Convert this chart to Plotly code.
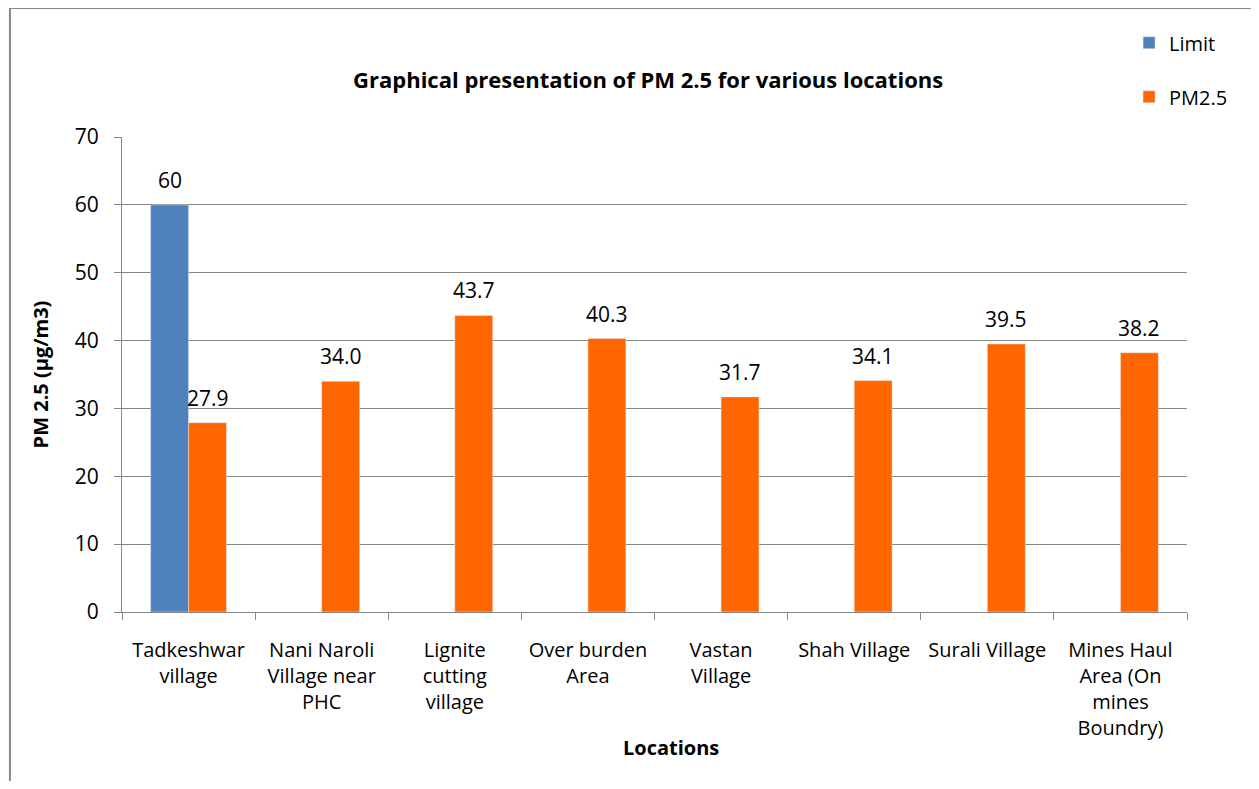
import plotly.graph_objects as go

# Locations and measured values
locations = [
    "Tadkeshwar<br>village",
    "Nani Naroli<br>Village near<br>PHC",
    "Lignite<br>cutting<br>village",
    "Over burden<br>Area",
    "Vastan<br>Village",
    "Shah Village",
    "Surali Village",
    "Mines Haul<br>Area (On<br>mines<br>Boundry)",
]
limit = [60, None, None, None, None, None, None, None]
pm25 = [27.9, 34.0, 43.7, 40.3, 31.7, 34.1, 39.5, 38.2]

font = "Open Sans, Noto Sans, sans-serif"

fig = go.Figure()
fig.add_trace(go.Bar(x=locations, y=limit, name="Limit",
                     marker_color="#4F81BD", legendgroup="a"))
fig.add_trace(go.Bar(x=locations, y=pm25, name="PM2.5",
                     marker_color="#FF6600", legendgroup="b"))

# data labels above each bar
for loc, v in zip(locations, limit):
    if v is not None:
        fig.add_annotation(x=loc, y=v, text=f"{v:g}", showarrow=False,
                           xshift=-19, yshift=25, font=dict(size=21))
for loc, v in zip(locations, pm25):
    fig.add_annotation(x=loc, y=v, text=f"{v:.1f}", showarrow=False,
                       xshift=19, yshift=25, font=dict(size=21))

fig.add_annotation(text="<b>Locations</b>", xref="paper", yref="paper",
                   x=0.5155, y=-0.286, showarrow=False, yanchor="middle",
                   font=dict(size=20))

fig.update_layout(
    width=1251, height=773,
    margin=dict(l=114, r=72, t=129, b=169),
    paper_bgcolor="white", plot_bgcolor="white",
    font=dict(family=font, size=20, color="black"),
    barmode="group", bargap=0.43, bargroupgap=0,
    title=dict(text="<b>Graphical presentation of PM 2.5 for various locations</b>",
               xref="paper", x=0.494, xanchor="center", y=0.907, yanchor="middle",
               font=dict(size=22)),
    legend=dict(x=0.9456, y=1.2395, xanchor="left", yanchor="top",
                tracegroupgap=25, font=dict(size=20), bgcolor="rgba(0,0,0,0)"),
    shapes=[dict(type="rect", xref="paper", yref="paper",
                 x0=-0.1052, x1=1.0657, y0=-0.40, y1=1.2716,
                 line=dict(color="#888888", width=2), layer="below")],
)

fig.update_yaxes(
    range=[0, 70], dtick=10, showgrid=True, gridcolor="#868686", gridwidth=1,
    showline=True, linecolor="#868686", ticks="outside", ticklen=7,
    tickcolor="#868686", zeroline=False, ticklabelstandoff=11,
    tickfont=dict(size=21),
    title=dict(text="<b>PM 2.5 (µg/m3)</b>", font=dict(size=20), standoff=20),
)
fig.update_xaxes(
    showline=True, linecolor="#868686", ticks="outside", ticklen=7,
    tickcolor="#868686", tickson="boundaries", tickangle=0,
    ticklabelstandoff=20, tickfont=dict(size=20),
)

fig.write_html("out.html")
